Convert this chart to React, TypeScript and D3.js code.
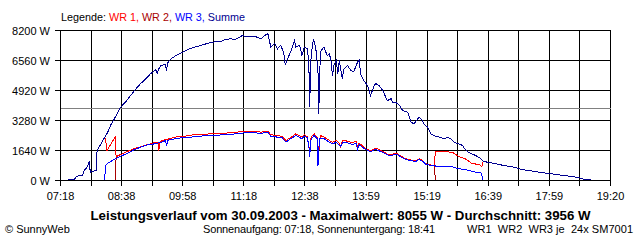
import React from "react";
import * as d3 from "d3";

type Pt = [string, number];

const yTicks = [0, 1640, 3280, 4920, 6560, 8200];
const xTickLabels = ["07:18", "08:38", "09:58", "11:18", "12:38", "13:59", "15:19", "16:39", "17:59", "19:20"];
const startTime = "07:18";
const endTime = "19:20";
const gridDivisions = 18;
const average = 3956;

const legendItems = [
  { label: "WR 1", color: "#ff0000" },
  { label: "WR 2", color: "#a80000" },
  { label: "WR 3", color: "#0000ff" },
  { label: "Summe", color: "#000090" },
];

const summe: Pt[] = [
  ["07:28", 40], ["07:36", 40], ["07:38", 180], ["07:42", 270], ["07:47", 270], ["07:49", 550], ["07:53", 730],
  ["07:56", 1040], ["07:57", 450], ["08:05", 550], ["08:06", 1640], ["08:11", 2000], ["08:15", 2280], ["08:20", 2640],
  ["08:24", 3040], ["08:28", 3320], ["08:33", 3700], ["08:37", 4010], ["08:44", 4320], ["08:50", 4650], ["08:57", 5010],
  ["09:03", 5290], ["09:10", 5560], ["09:16", 5830], ["09:23", 6050], ["09:25", 5850], ["09:27", 6100], ["09:30", 6290],
  ["09:36", 6350], ["09:37", 6010], ["09:39", 6450], ["09:43", 6650], ["09:51", 6870], ["10:00", 7050], ["10:09", 7230],
  ["10:15", 7300], ["10:22", 7380], ["10:36", 7560], ["10:49", 7600], ["10:54", 7700], ["11:02", 7750], ["11:06", 7680],
  ["11:17", 7930], ["11:24", 7840], ["11:32", 7900], ["11:41", 7750], ["11:50", 8050], ["11:52", 7700], ["11:54", 7290],
  ["11:59", 7500], ["12:03", 7200], ["12:07", 7400], ["12:11", 7000], ["12:13", 6320], ["12:16", 6650], ["12:21", 7110],
  ["12:25", 7650], ["12:27", 7300], ["12:32", 7380], ["12:35", 6830], ["12:38", 7290], ["12:42", 7200], ["12:44", 6500],
  ["12:45", 4010], ["12:47", 6830], ["12:50", 7750], ["12:53", 7290], ["12:56", 6000], ["12:57", 3650], ["12:59", 6800],
  ["13:00", 7110], ["13:04", 7290], ["13:08", 6830], ["13:11", 6930], ["13:13", 6560], ["13:15", 5740], ["13:17", 6290],
  ["13:20", 6560], ["13:22", 5830], ["13:24", 6560], ["13:28", 5560], ["13:30", 6100], ["13:35", 6290], ["13:39", 6010],
  ["13:43", 5960], ["13:48", 6470], ["13:50", 6560], ["13:52", 5830], ["13:56", 5470], ["14:01", 5200], ["14:05", 4650],
  ["14:10", 5200], ["14:12", 5290], ["14:16", 5200], ["14:21", 4930], ["14:27", 4370], ["14:32", 4470], ["14:34", 4280],
  ["14:38", 4280], ["14:43", 4100], ["14:47", 3830], ["14:54", 3730], ["14:58", 3190], ["15:02", 3100], ["15:07", 3370],
  ["15:09", 3460], ["15:13", 3280], ["15:15", 3100], ["15:20", 2910], ["15:24", 2550], ["15:28", 2460], ["15:35", 2370],
  ["15:42", 2280], ["15:46", 2370], ["15:50", 2280], ["15:55", 2090], ["16:01", 2000], ["16:06", 1910], ["16:08", 1770],
  ["16:12", 1590], ["16:17", 1460], ["16:23", 1370], ["16:30", 1190], ["16:33", 1040], ["16:43", 970], ["16:51", 900],
  ["17:00", 820], ["17:13", 730], ["17:24", 590], ["17:35", 540], ["17:46", 450], ["18:02", 370], ["18:19", 270],
  ["18:36", 180], ["18:47", 50], ["18:54", 40],
];

const wr1: Pt[] = [
  ["07:28", 40], ["07:36", 40], ["07:38", 180], ["07:42", 270], ["07:47", 270], ["07:49", 550], ["07:53", 730],
  ["07:56", 1040], ["07:57", 450], ["08:05", 550], ["08:06", 1640], ["08:11", 2000], ["08:15", 2280],
  ["08:17", 2280], ["08:19", 1640], ["08:28", 2250], ["08:30", 2370], ["08:31", 1280], ["08:33", 1350], ["08:37", 1420],
  ["08:44", 1550], ["08:52", 1700], ["09:02", 1830], ["09:12", 1960], ["09:21", 2060], ["09:26", 2090], ["09:27", 1590],
  ["09:28", 2100], ["09:32", 2190], ["09:41", 2280], ["09:48", 2370], ["10:01", 2420], ["10:12", 2500], ["10:20", 2520],
  ["10:36", 2550], ["10:55", 2590], ["11:19", 2680], ["11:35", 2680], ["11:41", 2640], ["11:50", 2700], ["11:54", 2500],
  ["12:03", 2460], ["12:09", 2400], ["12:14", 2190], ["12:21", 2370], ["12:27", 2550], ["12:31", 2460], ["12:35", 2370],
  ["12:38", 2500], ["12:42", 2400], ["12:45", 1640], ["12:47", 2370], ["12:51", 2550], ["12:55", 2370], ["12:57", 1460],
  ["12:59", 2460], ["13:04", 2370], ["13:11", 2190], ["13:15", 2090], ["13:20", 2190], ["13:24", 2050], ["13:26", 1820],
  ["13:28", 2190], ["13:35", 2150], ["13:41", 2050], ["13:46", 2150], ["13:48", 1770], ["13:50", 2050], ["13:59", 1730],
  ["14:05", 1640], ["14:12", 1770], ["14:19", 1640], ["14:23", 1550], ["14:29", 1400], ["14:36", 1460], ["14:40", 1460],
  ["14:45", 1330], ["14:51", 1190], ["14:58", 1120], ["15:04", 1060], ["15:09", 1190], ["15:13", 1100], ["15:18", 910],
  ["15:22", 870], ["15:28", 820], ["15:29", 820], ["15:30", 1590], ["15:52", 1550], ["16:00", 1330], ["16:06", 1230],
  ["16:09", 1190], ["16:13", 1090], ["16:17", 950], ["16:29", 850], ["16:31", 760], ["16:33", 1040], ["16:43", 970],
  ["16:51", 900], ["17:00", 820], ["17:13", 730], ["17:24", 590], ["17:35", 540], ["17:46", 450], ["18:02", 370],
  ["18:19", 270], ["18:36", 180], ["18:47", 50], ["18:54", 40],
];

const wr2: Pt[] = [
  ["08:30", 0], ["08:31", 1280], ["08:33", 1350], ["08:37", 1420],
  ["08:44", 1550], ["08:52", 1700], ["09:02", 1830], ["09:12", 1960], ["09:21", 2060], ["09:26", 2090], ["09:27", 1590],
  ["09:28", 2100], ["09:32", 2190], ["09:41", 2280], ["09:48", 2370], ["10:01", 2420], ["10:12", 2500], ["10:20", 2520],
  ["10:36", 2550], ["10:55", 2590], ["11:19", 2680], ["11:35", 2680], ["11:41", 2640], ["11:50", 2700], ["11:54", 2500],
  ["12:03", 2460], ["12:09", 2400], ["12:14", 2190], ["12:21", 2370], ["12:27", 2550], ["12:31", 2460], ["12:35", 2370],
  ["12:38", 2500], ["12:42", 2400], ["12:45", 1640], ["12:47", 2370], ["12:51", 2550], ["12:55", 2370], ["12:57", 1460],
  ["12:59", 2460], ["13:04", 2370], ["13:11", 2190], ["13:15", 2090], ["13:20", 2190], ["13:24", 2050], ["13:26", 1820],
  ["13:28", 2190], ["13:35", 2150], ["13:41", 2050], ["13:46", 2150], ["13:48", 1770], ["13:50", 2050], ["13:59", 1730],
  ["14:05", 1640], ["14:12", 1770], ["14:19", 1640], ["14:23", 1550], ["14:29", 1400], ["14:36", 1460], ["14:40", 1460],
  ["14:45", 1330], ["14:51", 1190], ["14:58", 1120], ["15:04", 1060], ["15:09", 1190], ["15:13", 1100], ["15:18", 910],
  ["15:22", 870], ["15:28", 820], ["15:29", 820], ["15:30", 0],
];

const wr3: Pt[] = [
  ["08:16", 0], ["08:17", 820], ["08:19", 910], ["08:26", 1090], ["08:30", 1190], ["08:37", 1330], ["08:46", 1490],
  ["08:55", 1690], ["09:03", 1820], ["09:12", 1950], ["09:21", 2000], ["09:30", 2090], ["09:36", 2180], ["09:37", 1880],
  ["09:39", 2200], ["09:43", 2240], ["09:56", 2330], ["10:09", 2370], ["10:20", 2420], ["10:36", 2470], ["10:57", 2500],
  ["11:19", 2600], ["11:35", 2600], ["11:41", 2580], ["11:50", 2640], ["11:54", 2420], ["12:03", 2370], ["12:09", 2330],
  ["12:14", 2100], ["12:20", 2280], ["12:27", 2460], ["12:31", 2370], ["12:35", 2280], ["12:38", 2420], ["12:42", 2330],
  ["12:44", 1900], ["12:45", 1280], ["12:47", 2280], ["12:51", 2460], ["12:55", 2280], ["12:56", 820], ["12:58", 2280],
  ["13:04", 2280], ["13:11", 2090], ["13:15", 2000], ["13:20", 2090], ["13:26", 1860], ["13:29", 2090], ["13:35", 2050],
  ["13:42", 1960], ["13:46", 2050], ["13:48", 1730], ["13:50", 1960], ["13:59", 1680], ["14:05", 1590], ["14:12", 1700],
  ["14:18", 1590], ["14:23", 1500], ["14:29", 1370], ["14:36", 1400], ["14:40", 1420], ["14:45", 1280], ["14:51", 1150],
  ["14:58", 1090], ["15:04", 1030], ["15:09", 1150], ["15:13", 1060], ["15:18", 880], ["15:22", 840], ["15:28", 800],
  ["15:31", 790], ["15:56", 730], ["15:58", 640], ["16:08", 620], ["16:14", 550], ["16:23", 450], ["16:31", 400],
  ["16:32", 0],
];

const titleText = "Leistungsverlauf vom 30.09.2003 - Maximalwert: 8055 W - Durchschnitt: 3956 W";
const copyrightText = "\u00A9 SunnyWeb";
const sunText = "Sonnenaufgang: 07:18, Sonnenuntergang: 18:41";
const deviceText = "WR1  WR2  WR3 je  24x SM7001";

const toMin = (s: string) => {
  const [h, m] = s.split(":").map(Number);
  return h * 60 + m;
};

const FONT = "Arial, 'Liberation Sans', sans-serif";

export default function App() {
  const t0 = toMin(startTime);
  const t1 = toMin(endTime);
  const x = d3.scaleLinear().domain([t0, t1]).range([60.5, 610.5]);
  const y = d3.scaleLinear().domain([0, 8200]).range([180.5, 30.5]);
  const crisp = (v: number) => Math.floor(v) + 0.5;

  const gridTimes = d3.range(gridDivisions + 1).map((i) => t0 + (i * (t1 - t0)) / gridDivisions);
  const labelTimes = gridTimes.filter((_, i) => i % 2 === 0);

  const line = d3
    .line<Pt>()
    .x((d) => x(toMin(d[0])))
    .y((d) => y(d[1]));

  const series: { data: Pt[]; color: string }[] = [
    { data: wr2, color: legendItems[1].color },
    { data: wr1, color: legendItems[0].color },
    { data: wr3, color: legendItems[2].color },
    { data: summe, color: legendItems[3].color },
  ];

  const yBottom = crisp(y(0));
  const yTop = crisp(y(8200));

  return (
    <svg
      width={640}
      height={240}
      style={{ position: "absolute", left: 0, top: 0, background: "#fff" }}
      fontFamily={FONT}
    >
      <rect x={0} y={0} width={640} height={240} fill="#fff" />
      {/* legend */}
      <text x={61} y={21} fontSize={11} textLength={184} lengthAdjust="spacingAndGlyphs" style={{ whiteSpace: "pre" }}>
        <tspan fill="#000">Legende: </tspan>
        {legendItems.map((it, i) => (
          <tspan key={it.label} fill={it.color}>
            {it.label + (i < legendItems.length - 1 ? ", " : "")}
          </tspan>
        ))}
      </text>

      {/* horizontal grid + y ticks */}
      {yTicks.map((v) => (
        <g key={v}>
          <line x1={55} x2={crisp(x(t1)) + 0.5} y1={crisp(y(v))} y2={crisp(y(v))} stroke="#000" shapeRendering="crispEdges" />
          <text x={50} y={crisp(y(v)) + 4} fontSize={11} textAnchor="end" fill="#000">
            {v + " W"}
          </text>
        </g>
      ))}

      {/* vertical grid + x ticks */}
      {gridTimes.map((t, i) => (
        <line
          key={i}
          x1={crisp(x(t))}
          x2={crisp(x(t))}
          y1={yTop}
          y2={yBottom + 5}
          stroke="#000"
          shapeRendering="crispEdges"
        />
      ))}
      {labelTimes.map((t, i) => (
        <text key={i} x={x(t)} y={200} fontSize={11} textAnchor="middle" fill="#000">
          {xTickLabels[i]}
        </text>
      ))}

      {/* average line */}
      <line
        x1={crisp(x(t0))}
        x2={crisp(x(t1))}
        y1={crisp(y(average))}
        y2={crisp(y(average))}
        stroke="#808080"
        shapeRendering="crispEdges"
      />

      {/* series */}
      {series.map((s, i) => (
        <path key={i} d={line(s.data) || ""} fill="none" stroke={s.color} strokeWidth={1} shapeRendering="crispEdges" />
      ))}

      {/* footer */}
      <text x={340.5} y={220} fontSize={12} fontWeight="bold" textAnchor="middle" fill="#000" textLength={500} lengthAdjust="spacingAndGlyphs">
        {titleText}
      </text>
      <text x={5} y={233} fontSize={11} fill="#000">
        {copyrightText}
      </text>
      <text x={203} y={233} fontSize={11} fill="#000" textLength={232} lengthAdjust="spacing">
        {sunText}
      </text>
      <text x={467} y={233} fontSize={11} fill="#000" textLength={166} lengthAdjust="spacing" style={{ whiteSpace: "pre" }}>
        {deviceText}
      </text>
    </svg>
  );
}
